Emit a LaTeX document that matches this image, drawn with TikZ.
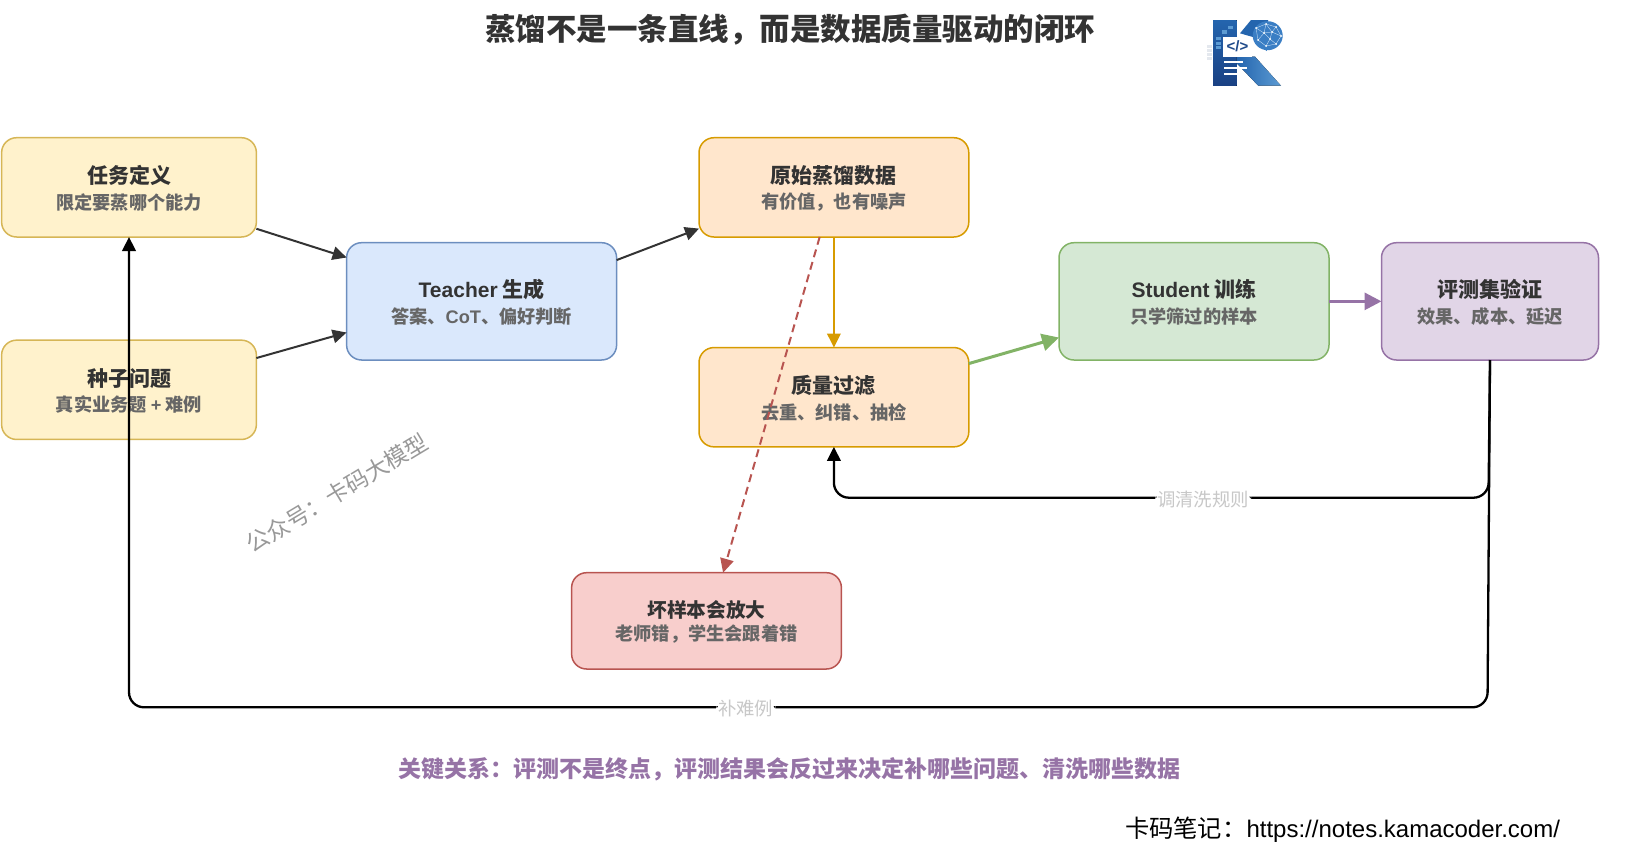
\documentclass[tikz,border=0pt]{standalone}
\usepackage{fontspec}
\setmainfont{Noto Sans CJK SC}
\newfontfamily\lat{Liberation Sans}
\usetikzlibrary{arrows.meta}
\definecolor{inkdark}{HTML}{333333}
\definecolor{inksub}{HTML}{666666}
\definecolor{inklabel}{HTML}{C8C8C8}
\definecolor{yellowfill}{HTML}{FFF2CC}
\definecolor{yellowline}{HTML}{D6B656}
\definecolor{bluefill}{HTML}{DAE8FC}
\definecolor{blueline}{HTML}{6C8EBF}
\definecolor{orangefill}{HTML}{FFE6CC}
\definecolor{orangeline}{HTML}{D79B00}
\definecolor{greenfill}{HTML}{D5E8D4}
\definecolor{greenline}{HTML}{82B366}
\definecolor{purplefill}{HTML}{E1D5E7}
\definecolor{purpleline}{HTML}{9673A6}
\definecolor{redfill}{HTML}{F8CECC}
\definecolor{redline}{HTML}{B85450}
\definecolor{logotop}{HTML}{2465AE}
\definecolor{logobottom}{HTML}{1A4183}
\definecolor{logomid}{HTML}{3A7EC4}
\definecolor{logolight}{HTML}{5C9BD3}
\definecolor{logonavy}{HTML}{1F4A8A}
\definecolor{logofaint}{HTML}{E4E8EE}
\definecolor{logodot}{HTML}{CFE3F6}
\newcommand{\boxtext}[2]{\rule{0pt}{20pt}{\fontsize{21}{25.7}\selectfont\color{inkdark}#1}\\{\color{inksub}#2}}
\begin{document}
\begin{tikzpicture}[
    x=1pt, y=1pt, node distance=100pt,
    block/.style={rectangle, draw, line width=1.5pt, rounded corners=15pt, align=center, inner sep=0pt, outer sep=0pt,
      font=\fontsize{18.2}{25.7}\selectfont\bfseries},
    yellowbox/.style={block, fill=yellowfill, draw=yellowline, minimum width=254.8pt, minimum height=99.3pt},
    orangebox/.style={block, fill=orangefill, draw=orangeline, minimum width=269.8pt, minimum height=99.3pt},
    tallbox/.style={block, minimum width=270pt, minimum height=117.3pt},
    line/.style={draw, line width=2pt, -{Triangle[length=14pt,width=13.5pt]}},
    thickline/.style={draw, line width=3pt, -{Triangle[length=17pt,width=17pt]}},
    backline/.style={line, draw=black, line width=2.3pt, rounded corners=15pt},
    edgelabel/.style={fill=white, inner sep=2pt, text=inklabel, yshift=-1.5pt, font=\fontsize{18.4}{20}\selectfont}
  ]
    \useasboundingbox (0,0) rectangle (1644,-860);

    \node [yellowbox] (task) at (129,-187.35) {\boxtext{任务定义}{限定要蒸哪个能力}};
    \node [yellowbox, below of=task, yshift=-102.45pt] (seed) {\boxtext{种子问题}{真实业务题 {\lat +} 难例}};
    \node [tallbox, fill=bluefill, draw=blueline, right of=task, xshift=252.6pt, yshift=-114pt] (teacher) {\boxtext{{\lat Teacher} 生成}{答案、{\lat CoT}、偏好判断}};
    \node [orangebox, right of=teacher, xshift=252.3pt, yshift=114pt] (raw) {\boxtext{原始蒸馏数据}{有价值，也有噪声}};
    \node [orangebox, below of=raw, yshift=-109.85pt] (filter) {\boxtext{质量过滤}{去重、纠错、抽检}};
    \node [tallbox, fill=greenfill, draw=greenline, right of=teacher, xshift=612.4pt] (student) {\boxtext{{\lat Student} 训练}{只学筛过的样本}};
    \node [tallbox, fill=purplefill, draw=purpleline, minimum width=217pt, right of=student, xshift=196pt] (eval) {\boxtext{评测集验证}{效果、成本、延迟}};
    \node [block, fill=redfill, draw=redline, minimum width=269.8pt, minimum height=96.3pt, below of=filter, xshift=-127.4pt, yshift=-123.65pt] (bad) {\rule{0pt}{20pt}{\fontsize{19.7}{24}\selectfont\color{inkdark}坏样本会放大}\\[-2.7pt]{\color{inksub}老师错，学生会跟着错}};

    \node [font=\fontsize{30.5}{34}\selectfont\bfseries, text=inkdark] (title) at (790,-30) {蒸馏不是一条直线，而是数据质量驱动的闭环};
    \node [font=\fontsize{23}{26}\selectfont\bfseries, text=purpleline] (note) at (789,-769) {关键关系：评测不是终点，评测结果会反过来决定补哪些问题、清洗哪些数据};
    \node [font=\fontsize{24.3}{28}\selectfont, text=black] (site) at (1342.5,-830) {卡码笔记：{\lat\fontsize{24}{28}\selectfont https://notes.kamacoder.com/}};
    \node [font=\fontsize{23}{28}\selectfont, text=black!40, rotate=31] (mark) at (337,-493) {公众号：卡码大模型};

    \coordinate (cleanbend) at (1488.5,-497.7);
    \coordinate (hardbend) at (1487.5,-707.3);

    \path [line, draw=inkdark] (task.-18) -- (teacher.162);
    \path [line, draw=inkdark] (seed.14) -- (teacher.193.6);
    \path [line, draw=inkdark] (teacher.17.9) -- (raw.197.5);
    \path [line, draw=orangeline] (raw.south) -- (filter.north);
    \path [thickline, draw=greenline] (filter.14.7) -- (student.195);
    \path [thickline, draw=purpleline] (student.east) -- (eval.west);
    \path [line, draw=redline, dash pattern=on 8pt off 5pt] (raw.254) -- (bad.71.5);
    \path [backline] (eval.south) -- (cleanbend) -| node [edgelabel, pos=.218] (cleanlabel) {调清洗规则} (filter.south);
    \path [backline] (eval.south) -- (hardbend) -| node [edgelabel, pos=.273] (hardlabel) {补难例} (task.south);

    \fill [top color=logotop, bottom color=logobottom] (1213,-20) rectangle (1236.7,-85.7);
    \fill [left color=logotop, right color=logolight] (1236.7,-56.7) -- (1255,-56.7) -- (1281,-85.7) -- (1258.3,-85.7) -- (1236.7,-63.3) -- cycle;
    \fill [logotop] (1240,-33.3) -- (1251,-20) -- (1268.3,-20) -- (1261.7,-38) -- (1251.7,-36.7) -- cycle;
    \fill [logomid] (1267.7,-35.7) ellipse (15pt and 14.5pt);
    \fill [logomid] (1258.3,-45) -- (1266.7,-51) -- (1268.3,-45) -- cycle;
    \foreach \ax/\ay/\bx/\by in {1256/-28/1266/-24, 1266/-24/1276/-27, 1276/-27/1281/-36, 1281/-36/1276/-44, 1276/-44/1266/-46, 1266/-46/1258/-40, 1258/-40/1256/-28, 1256/-28/1264/-33, 1264/-33/1272/-32, 1272/-32/1276/-27, 1272/-32/1281/-36, 1264/-33/1258/-40, 1264/-33/1270/-39, 1270/-39/1276/-44, 1270/-39/1266/-46, 1272/-32/1270/-39, 1266/-24/1264/-33, 1266/-24/1272/-32}
      \draw [logodot, line width=.35pt] (\ax,\ay) -- (\bx,\by);
    \foreach \ax/\ay in {1256/-28, 1266/-24, 1276/-27, 1281/-36, 1276/-44, 1266/-46, 1258/-40, 1264/-33, 1272/-32, 1270/-39}
      \fill [white] (\ax,\ay) circle (1pt);
    \foreach \ax/\ay in {1227.7/-25.7, 1221.7/-30, 1215.7/-36.7, 1215.7/-41.7, 1215.7/-45.7}
      \fill [logolight] (\ax,\ay) rectangle ++(4.8,-3.5);
    \foreach \ay in {-45, -49, -53, -57}
      \fill [logofaint] (1206.5,\ay) rectangle ++(5,-3);
    \fill [white] (1223.3,-36.7) rectangle (1251.7,-56.7);
    \node [font=\lat\fontsize{15}{16}\selectfont\bfseries, text=logonavy, inner sep=0pt] (codemark) at (1237.5,-46.7) {</>};
    \fill [white] (1224.3,-60.7) rectangle (1243.3,-62.7);
    \fill [white] (1224.3,-66.7) rectangle (1246.7,-68.7);
    \fill [white] (1224.3,-73.3) rectangle (1236.7,-75.3);
  \end{tikzpicture}
\end{document}
